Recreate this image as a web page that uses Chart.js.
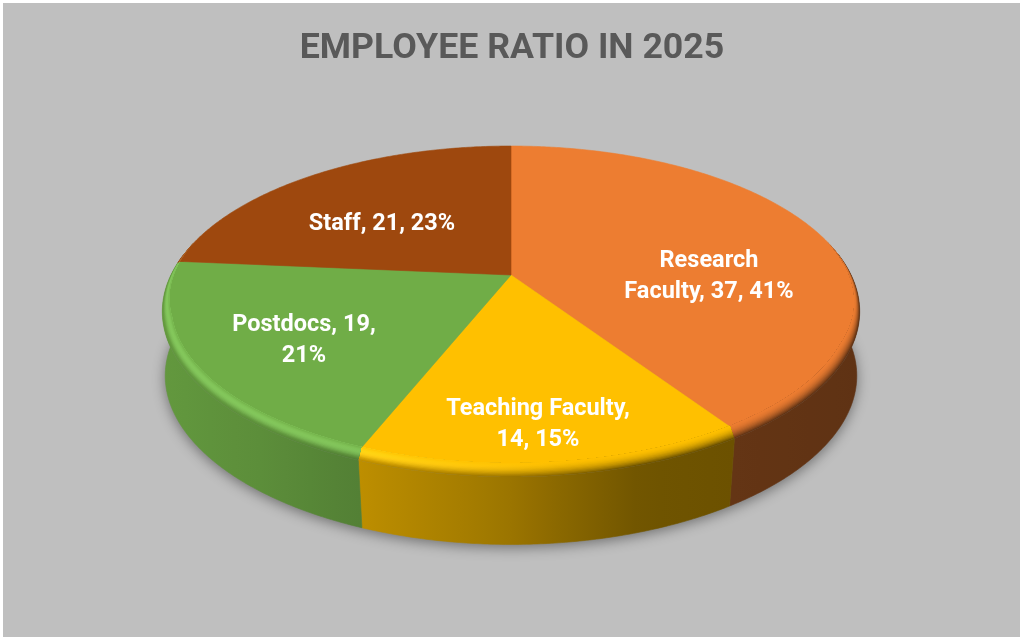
<!DOCTYPE html>
<html>
<head>
<meta charset="utf-8">
<title>Employee ratio in 2025</title>
<script src="https://cdn.jsdelivr.net/npm/chart.js@4"></script>
<style>
  body { margin: 0; background: #fff; }
  canvas { display: block; }
</style>
</head>
<body>
<canvas id="chart" width="1024" height="641"></canvas>
<script>
const categories = ["Research Faculty", "Teaching Faculty", "Postdocs", "Staff"];
const employees = [37, 14, 19, 21];
const sliceColors = ["#ED7D31", "#FFC000", "#70AD47", "#9E480E"];
const titleText = "EMPLOYEE RATIO IN 2025";
// how many words go on the first line of each data label (0 = one line)
const labelBreaks = [1, 2, 2, 0];

// the tilted pie is a perspective view of a disc: flat face, rounded rim, base
const apex = [511, 275];
const faceView = { cy: 275, rx: 334, ry: 153, p: 0.186 };
const rimView = { cy: 281.7, rx: 343, ry: 160.1, p: 0.18 };
const baseShift = { sx: 0.995, narrow: 0.02, dy: 67.5 };
const labelAnchors = [[709, 277], [538, 425], [304, 341], [382, 224]];
const FONT = "Roboto, sans-serif";
const DEG = Math.PI / 180;

// wall brightness from left to right
const wallLight = [[160, 0.88], [260, 0.82], [360, 0.74], [500, 0.62], [640, 0.44], [860, 0.40]];

function lightAt(x) {
  for (let i = 1; i < wallLight.length; i++) {
    if (x <= wallLight[i][0]) {
      const a = wallLight[i - 1], b = wallLight[i];
      return a[1] + (b[1] - a[1]) * Math.max(0, x - a[0]) / (b[0] - a[0]);
    }
  }
  return wallLight[wallLight.length - 1][1];
}

function hexRgb(hex) {
  return [1, 3, 5].map(i => parseInt(hex.substr(i, 2), 16));
}

function ringPoint(m, theta) {
  const u = Math.sin(theta), v = Math.cos(theta), w = 1 + m.p * v;
  return [apex[0] + m.rx * u / w, m.cy - m.ry * v / w];
}

// how much of the rim shows at this angle, none along the back edge
function rimAmount(theta) {
  const d = theta / DEG;
  const ramp = (v, a, b) => Math.max(0, Math.min(1, (v - a) / (b - a)));
  return ramp(d, 75, 115) * (1 - ramp(d, 255, 285));
}

// t = 0 is the edge of the flat face, t = 1 the outer edge of the rim
function topPoint(theta, t) {
  const o = ringPoint(rimView, theta), f = ringPoint(faceView, theta);
  const k = (1 - t) * rimAmount(theta);
  return [o[0] + (f[0] - o[0]) * k, o[1] + (f[1] - o[1]) * k];
}

function basePoint(theta) {
  const o = ringPoint(rimView, theta);
  const sx = baseShift.sx - baseShift.narrow * Math.max(0, -Math.cos(theta));
  return [apex[0] + sx * (o[0] - apex[0]), o[1] + baseShift.dy];
}

// x based gradient, shade(x) gives [r, g, b]
function xGradient(ctx, shade) {
  const g = ctx.createLinearGradient(160, 0, 860, 0);
  for (let i = 0; i <= 28; i++) {
    const c = shade(160 + i * 25).map(n => Math.max(0, Math.min(255, Math.round(n))));
    g.addColorStop(i / 28, `rgb(${c[0]},${c[1]},${c[2]})`);
  }
  return g;
}

function sectorPath(ctx, a, b, t) {
  ctx.beginPath();
  ctx.moveTo(apex[0], apex[1]);
  const n = Math.ceil((b - a) / (0.5 * DEG));
  for (let i = 0; i <= n; i++) {
    const p = topPoint(a + (b - a) * i / n, t);
    ctx.lineTo(p[0], p[1]);
  }
  ctx.closePath();
}

// strip of the rim between the flat face and t
function rimPath(ctx, a, b, t) {
  ctx.beginPath();
  const n = Math.ceil((b - a) / (0.5 * DEG));
  for (let i = 0; i <= n; i++) {
    const p = topPoint(a + (b - a) * i / n, t);
    ctx.lineTo(p[0], p[1]);
  }
  for (let i = n; i >= 0; i--) {
    const p = topPoint(a + (b - a) * i / n, 0);
    ctx.lineTo(p[0], p[1]);
  }
  ctx.closePath();
}

function drawShadow(ctx) {
  ctx.save();
  ctx.shadowColor = "rgba(0,0,0,0.42)";
  ctx.shadowBlur = 13;
  ctx.shadowOffsetY = 3;
  ctx.fillStyle = "#8a8a8a";
  ctx.beginPath();
  for (let d = 0; d < 360; d += 1) {
    const p = basePoint(d * DEG);
    ctx.lineTo(p[0], p[1]);
  }
  ctx.closePath();
  ctx.fill();
  ctx.restore();
}

function drawWall(ctx, a, b, rgb) {
  const from = Math.max(a, 80 * DEG), to = Math.min(b, 280 * DEG);
  if (to <= from) return;
  const n = Math.ceil((to - from) / (0.5 * DEG));
  ctx.beginPath();
  for (let i = 0; i <= n; i++) {
    const p = ringPoint(rimView, from + (to - from) * i / n);
    ctx.lineTo(p[0], p[1]);
  }
  for (let i = n; i >= 0; i--) {
    const p = basePoint(from + (to - from) * i / n);
    ctx.lineTo(p[0], p[1]);
  }
  ctx.closePath();
  const fill = xGradient(ctx, x => rgb.map(c => c * lightAt(x)));
  ctx.fillStyle = fill;
  ctx.strokeStyle = fill;
  ctx.lineWidth = 0.6;
  ctx.fill();
  ctx.stroke();
}

function drawFace(ctx, a, b, color) {
  ctx.fillStyle = color;
  ctx.strokeStyle = color;
  ctx.lineWidth = 0.6;
  // runs a little way under the rim so no gap shows between them
  sectorPath(ctx, a, b, 0.1);
  ctx.fill();
  ctx.stroke();
}

function drawRim(ctx, a, b, rgb) {
  // painted outer band first, each band is a narrower strip on top
  const bands = 12;
  for (let k = bands; k >= 1; k--) {
    const t = k / bands;
    const shade = x => {
      const l = 1 + (lightAt(x) - 1) * t * t;
      const glow = Math.max(0, Math.min(1, (570 - x) / 220)) * Math.sin(Math.PI * Math.min(1, t * 1.15));
      return [rgb[0] * l + 22 * glow, rgb[1] * l + 30 * glow, rgb[2] * l + 22 * glow];
    };
    ctx.fillStyle = xGradient(ctx, shade);
    rimPath(ctx, a, b, t);
    ctx.fill();
  }
}

const backgroundPlugin = {
  id: "plate",
  beforeDraw(chart) {
    const ctx = chart.ctx;
    ctx.save();
    ctx.fillStyle = "#BFBFBF";
    ctx.fillRect(3, 3, 1017, 634);
    ctx.restore();
  }
};

const discPlugin = {
  id: "disc",
  beforeDatasetsDraw(chart) {
    const ctx = chart.ctx;
    const arcs = chart.getDatasetMeta(0).data;
    // chart.js angles start at -90deg, here theta 0 is the top of the disc
    const spans = arcs.map(arc => [arc.startAngle + Math.PI / 2, arc.endAngle + Math.PI / 2]);
    const fills = arcs.map(arc => arc.options.backgroundColor);
    ctx.save();
    drawShadow(ctx);
    spans.forEach((s, i) => drawWall(ctx, s[0], s[1], hexRgb(fills[i])));
    spans.forEach((s, i) => drawFace(ctx, s[0], s[1], fills[i]));
    spans.forEach((s, i) => drawRim(ctx, s[0], s[1], hexRgb(fills[i])));
    ctx.restore();
    return false;
  },
  afterDraw(chart) {
    const ctx = chart.ctx;
    const total = employees.reduce((a, b) => a + b, 0);
    ctx.save();
    ctx.font = `bold 23.5px ${FONT}`;
    ctx.fillStyle = "#FFFFFF";
    ctx.textAlign = "center";
    ctx.textBaseline = "middle";
    categories.forEach((name, i) => {
      const pct = Math.round(employees[i] / total * 100);
      const words = `${name}, ${employees[i]}, ${pct}%`.split(" ");
      const cut = labelBreaks[i];
      const lines = cut ? [words.slice(0, cut).join(" "), words.slice(cut).join(" ")] : [words.join(" ")];
      const [x, y] = labelAnchors[i];
      lines.forEach((line, j) => ctx.fillText(line, x, y + (j - (lines.length - 1) / 2) * 31));
    });
    ctx.restore();
  }
};

new Chart(document.getElementById("chart"), {
  type: "pie",
  data: {
    labels: categories,
    datasets: [{ data: employees, backgroundColor: sliceColors, borderWidth: 0 }]
  },
  options: {
    responsive: false,
    animation: false,
    plugins: {
      legend: { display: false },
      tooltip: { enabled: false },
      title: {
        display: true,
        text: titleText,
        color: "#595959",
        font: { family: FONT, size: 35.7, weight: "bold" },
        padding: { top: 28, bottom: 10 }
      }
    }
  },
  plugins: [backgroundPlugin, discPlugin]
});
</script>
</body>
</html>
